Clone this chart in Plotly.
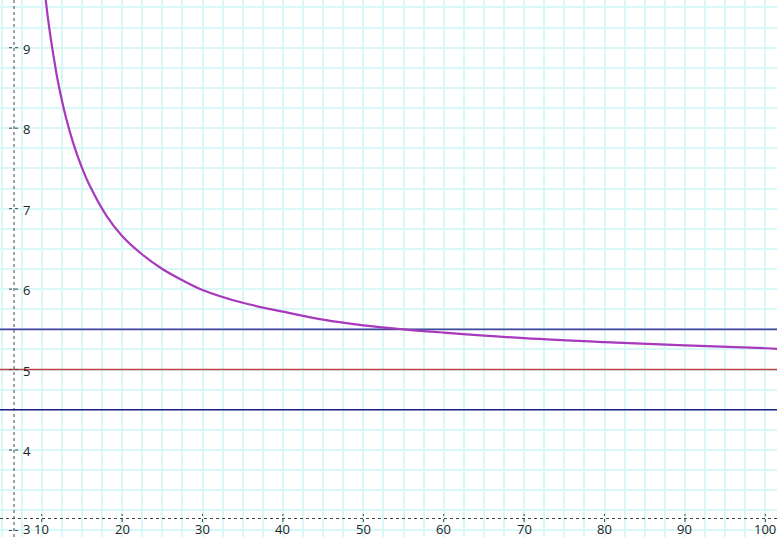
import plotly.graph_objects as go

# Curve values
curve_x = [10.3, 10.5, 11, 11.5, 12, 13, 14, 15, 16, 18, 20, 22.5, 25, 27.5, 30, 35, 40, 45, 50, 55, 60, 70, 80, 90, 100, 102]
curve_y = [9.80, 9.59, 9.20, 8.88, 8.59, 8.14, 7.79, 7.51, 7.28, 6.92, 6.66, 6.43, 6.25, 6.11, 5.99, 5.83, 5.72, 5.62, 5.55, 5.50, 5.46, 5.39, 5.34, 5.30, 5.265, 5.255]

# Horizontal reference levels
levels = [5.5, 5.0, 4.5]
level_colors = ["#45459e", "#c04444", "#20208a"]

# Tick labels
x_ticks = [10, 20, 30, 40, 50, 60, 70, 80, 90, 100]
y_ticks = [3, 4, 5, 6, 7, 8, 9]

X_RANGE = [4.813, 101.45]
Y_RANGE = [2.919, 9.593]
W, H = 777, 537
AXIS_X_PX = 14      # vertical axis position from left
AXIS_Y_PX = 518.5   # horizontal axis position from top

fig = go.Figure()

for lv, col in zip(levels, level_colors):
    fig.add_trace(go.Scatter(x=X_RANGE, y=[lv, lv], mode="lines",
                             line=dict(color=col, width=1.6), hoverinfo="skip"))

fig.add_trace(go.Scatter(x=curve_x, y=curve_y, mode="lines",
                         line=dict(color="#a838bc", width=2.2, shape="spline"),
                         hoverinfo="skip"))

axis_col = "#444444"
ax_xp = AXIS_X_PX / W
ax_yp = 1 - AXIS_Y_PX / H

# axes (dotted)
fig.add_shape(type="line", xref="paper", yref="paper", x0=ax_xp, x1=ax_xp, y0=0, y1=1,
              line=dict(color=axis_col, width=1, dash="dot"))
fig.add_shape(type="line", xref="paper", yref="paper", x0=0, x1=1, y0=ax_yp, y1=ax_yp,
              line=dict(color=axis_col, width=1, dash="dot"))

# y ticks and labels
for v in y_ticks:
    fig.add_shape(type="line", xref="paper", yref="y", x0=9 / W, x1=19 / W, y0=v, y1=v,
                  line=dict(color=axis_col, width=1, dash="dot"))
    fig.add_annotation(x=21 / W, y=v, xref="paper", yref="y", text=str(v), showarrow=False,
                       xanchor="left", yanchor="middle", yshift=(1 if v == 3 else -1),
                       font=dict(family="Open Sans", size=13, color="#222222"))

# x ticks and labels
for v in x_ticks:
    fig.add_shape(type="line", xref="x", yref="paper", x0=v, x1=v,
                  y0=1 - 522 / H, y1=1 - 514 / H,
                  line=dict(color=axis_col, width=1, dash="dot"))
    fig.add_annotation(x=v, y=1 - 529 / H, xref="x", yref="paper", text=str(v), showarrow=False,
                       xanchor="center", yanchor="middle",
                       font=dict(family="Open Sans", size=13, color="#222222"))

fig.update_layout(
    width=W, height=H,
    margin=dict(l=0, r=0, t=0, b=0),
    paper_bgcolor="white", plot_bgcolor="white",
    showlegend=False,
    xaxis=dict(range=X_RANGE, showgrid=True, dtick=2.5, tick0=0, gridcolor="#d8f8f8",
               gridwidth=2, zeroline=False, showticklabels=False, ticks="", fixedrange=True),
    yaxis=dict(range=Y_RANGE, showgrid=True, dtick=0.25, tick0=0, gridcolor="#d8f8f8",
               gridwidth=2, zeroline=False, showticklabels=False, ticks="", fixedrange=True),
)

fig.write_html("out.html", config={"displayModeBar": False},
               post_script="document.body.style.margin='0';document.body.style.overflow='hidden';")
